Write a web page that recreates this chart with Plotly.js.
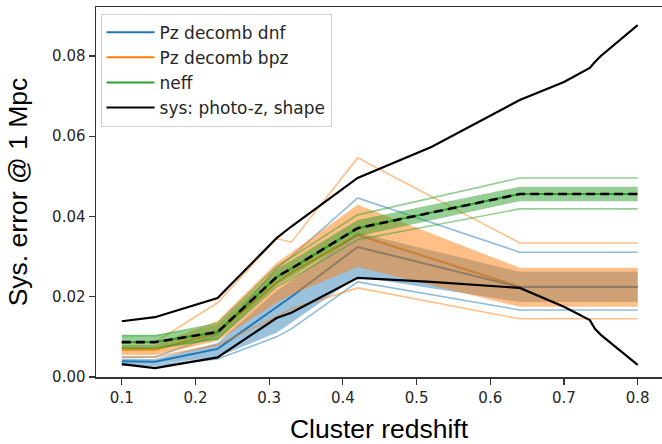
<!DOCTYPE html>
<html><head><meta charset="utf-8">
<script src="https://cdn.plot.ly/plotly-3.0.1.min.js"></script>
<style>html,body{margin:0;padding:0;background:#fff}</style>
</head><body><div id="chart" style="width:662px;height:444px"></div>
<script>
// Redshift nodes for the error-band series
const z = [0.1, 0.145, 0.23, 0.31, 0.33, 0.42, 0.64, 0.8];

// Pz decomb dnf (blue)
const dnfMean   = [0.0039, 0.0038, 0.0070, 0.0175, 0.0200, 0.0324, 0.0224, 0.0224];
const dnfLo     = [0.0032, 0.0031, 0.0050, 0.0110, 0.0135, 0.0250, 0.0187, 0.0187];
const dnfHi     = [0.0046, 0.0045, 0.0085, 0.0215, 0.0240, 0.0360, 0.0262, 0.0262];
const dnfOuterHi= [0.0050, 0.0050, 0.0105, 0.0270, 0.0300, 0.0446, 0.0311, 0.0311];
const dnfOuterLo= [0.0030, 0.0029, 0.0045, 0.0100, 0.0120, 0.0237, 0.0167, 0.0167];

// Pz decomb bpz (orange)
const bpzMean   = [0.0068, 0.0068, 0.0110, 0.0235, 0.0260, 0.0354, 0.0225, 0.0225];
const bpzLo     = [0.0055, 0.0055, 0.0090, 0.0185, 0.0205, 0.0274, 0.0175, 0.0175];
const bpzHi     = [0.0080, 0.0080, 0.0140, 0.0285, 0.0310, 0.0429, 0.0272, 0.0272];
const bpzOuterHi= [0.0085, 0.0087, 0.0185, 0.0345, 0.0336, 0.0546, 0.0334, 0.0334];
const bpzOuterLo= [0.0050, 0.0050, 0.0080, 0.0150, 0.0170, 0.0222, 0.0145, 0.0145];

// neff (green)
const neffMean   = [0.0087, 0.0087, 0.0112, 0.0249, 0.0270, 0.0371, 0.0456, 0.0456];
const neffLo     = [0.0070, 0.0070, 0.0094, 0.0229, 0.0250, 0.0351, 0.0438, 0.0438];
const neffHi     = [0.0104, 0.0104, 0.0130, 0.0269, 0.0290, 0.0391, 0.0474, 0.0474];
const neffOuterHi= [0.0103, 0.0103, 0.0133, 0.0275, 0.0298, 0.0404, 0.0496, 0.0496];
const neffOuterLo= [0.0072, 0.0072, 0.0095, 0.0225, 0.0245, 0.0342, 0.0419, 0.0419];

// sys: photo-z, shape (black envelope)
const zSys  = [0.1, 0.145, 0.23, 0.31, 0.33, 0.42, 0.52, 0.6, 0.64, 0.70, 0.735, 0.742, 0.75, 0.8];
const sysHi = [0.0139, 0.0149, 0.0197, 0.0346, 0.0375, 0.0496, 0.0573, 0.0650, 0.0690, 0.0735, 0.0770, 0.0785, 0.0800, 0.0877];
const sysLo = [0.0032, 0.0022, 0.0049, 0.0147, 0.0160, 0.0247, 0.0237, 0.0228, 0.0222, 0.0175, 0.0142, 0.0120, 0.0105, 0.0030];

const BLUE = '#1f77b4', ORANGE = '#ff7f0e', GREEN = '#2ca02c';
const BLUE_F = 'rgba(31,119,180,0.45)', ORANGE_F = 'rgba(255,127,14,0.5)', GREEN_F = 'rgba(44,160,44,0.5)';
const BLUE_T = 'rgba(31,119,180,0.5)', ORANGE_T = 'rgba(255,127,14,0.5)', GREEN_T = 'rgba(44,160,44,0.5)';

function band(lo, hi, fill) {
  return [
    {x: z, y: lo, mode: 'lines', line: {width: 0, color: fill}, showlegend: false, hoverinfo: 'skip'},
    {x: z, y: hi, mode: 'lines', line: {width: 0, color: fill}, fill: 'tonexty', fillcolor: fill, showlegend: false, hoverinfo: 'skip'}
  ];
}
function thin(y, col) {
  return {x: z, y: y, mode: 'lines', line: {width: 1.6, color: col}, showlegend: false, hoverinfo: 'skip'};
}

const traces = [
  {x: z, y: bpzMean, mode: 'lines', name: 'Pz decomb bpz', line: {width: 2, color: ORANGE}, legendrank: 2},
  ...band(dnfLo, dnfHi, BLUE_F),
  thin(dnfOuterHi, BLUE_T), thin(dnfOuterLo, BLUE_T),
  {x: z, y: dnfMean, mode: 'lines', name: 'Pz decomb dnf', line: {width: 2, color: BLUE}, legendrank: 1},
  ...band(bpzLo, bpzHi, ORANGE_F),
  thin(bpzOuterHi, ORANGE_T), thin(bpzOuterLo, ORANGE_T),
  ...band(neffLo, neffHi, GREEN_F),
  thin(neffOuterHi, GREEN_T), thin(neffOuterLo, GREEN_T),
  {x: z, y: neffMean, mode: 'lines', name: 'neff', line: {width: 2, color: GREEN}, legendrank: 3},
  {x: z, y: neffMean, mode: 'lines', showlegend: false, line: {width: 2.6, color: '#000', dash: '9px,5px'}},
  {x: zSys, y: sysHi, mode: 'lines', name: 'sys: photo-z, shape', line: {width: 2.2, color: '#000'}, legendrank: 4},
  {x: zSys, y: sysLo, mode: 'lines', showlegend: false, line: {width: 2.2, color: '#000'}}
];

const tickFont = {family: 'DejaVu Sans', size: 15, color: '#262626'};
const titleFont = {family: 'Liberation Sans', size: 26.5, color: '#000'};
const layout = {
  width: 662, height: 444,
  margin: {l: 96, r: 0, t: 7, b: 67},
  paper_bgcolor: '#fff', plot_bgcolor: '#fff',
  showlegend: true,
  legend: {
    x: 0.008, y: 0.982, xanchor: 'left', yanchor: 'top', traceorder: 'normal',
    itemwidth: 48,
    bgcolor: 'rgba(255,255,255,0.85)', bordercolor: '#d0d0d0', borderwidth: 1,
    font: {family: 'DejaVu Sans', size: 17, color: '#262626'}
  },
  xaxis: {
    range: [0.065, 0.833], autorange: false,
    tickvals: [0.1, 0.2, 0.3, 0.4, 0.5, 0.6, 0.7, 0.8],
    ticktext: ['0.1', '0.2', '0.3', '0.4', '0.5', '0.6', '0.7', '0.8'],
    ticks: 'outside', ticklen: 6, tickwidth: 1.2, tickcolor: '#333',
    showline: true, linecolor: '#333', linewidth: 1.5, mirror: true,
    showgrid: false, zeroline: false, tickfont: tickFont, automargin: false,
    title: {text: 'Cluster redshift', font: titleFont, standoff: 15}
  },
  yaxis: {
    range: [0, 0.0922], autorange: false,
    tickvals: [0, 0.02, 0.04, 0.06, 0.08],
    ticktext: ['0.00', '0.02', '0.04', '0.06', '0.08'],
    ticks: 'outside', ticklen: 6, tickwidth: 1.2, tickcolor: '#333',
    showline: true, linecolor: '#333', linewidth: 1.5,
    showgrid: false, zeroline: false, tickfont: tickFont, automargin: false,
    title: {text: 'Sys. error @ 1 Mpc', font: titleFont, standoff: 17}
  }
};

Plotly.newPlot('chart', traces, layout, {displayModeBar: false, staticPlot: true});
</script>
</body></html>
